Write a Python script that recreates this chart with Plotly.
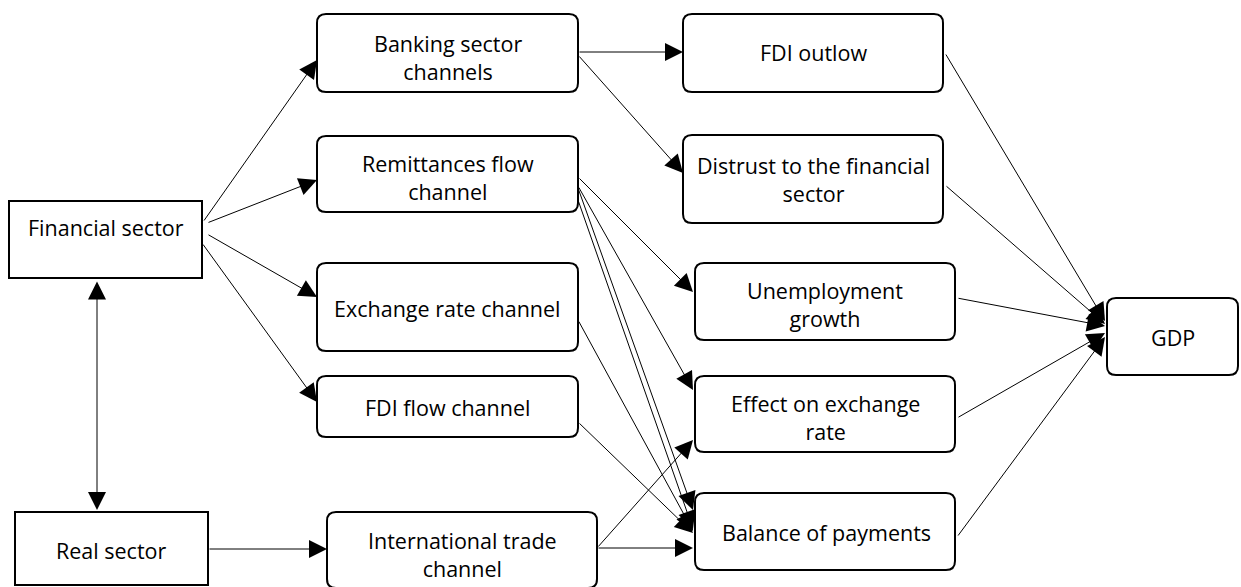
import plotly.graph_objects as go

# ---------------- data: nodes and links of the diagram ----------------
node_ids = ["fin", "real", "bank", "remit", "exch", "fdiflow", "trade",
            "fdiout", "distrust", "unemp", "effexch", "bop", "gdp"]
node_labels = ["Financial sector", "Real sector", "Banking sector<br>channels",
               "Remittances flow<br>channel", "Exchange rate channel", "FDI flow channel",
               "International trade<br>channel", "FDI outlow",
               "Distrust to the financial<br>sector", "Unemployment<br>growth",
               "Effect on exchange<br>rate", "Balance of payments", "GDP"]
node_rounded = [False, False, True, True, True, True, True,
                True, True, True, True, True, True]

edge_sources = ["fin", "fin", "fin", "fin", "real", "bank", "bank",
                "remit", "remit", "remit", "remit", "exch", "fdiflow", "trade", "trade",
                "fdiout", "distrust", "unemp", "effexch", "bop"]
edge_targets = ["bank", "remit", "exch", "fdiflow", "trade", "fdiout", "distrust",
                "unemp", "effexch", "bop", "bop", "bop", "bop", "effexch", "bop",
                "gdp", "gdp", "gdp", "gdp", "gdp"]
two_way_source, two_way_target = "fin", "real"

# ---------------- layout (pixel geometry of the drawing) ----------------
W, H = 1241, 587
# box geometry: x0, x1, y0 (top), y1 (bottom)
box = {
    "fin": (9, 202, 201, 278), "real": (15, 208, 512, 585),
    "bank": (317, 578, 14, 92), "remit": (317, 578, 136, 212),
    "exch": (317, 578, 263, 351), "fdiflow": (317, 578, 376, 437),
    "trade": (327, 597, 512, 588),
    "fdiout": (683, 943, 14, 92), "distrust": (683, 943, 135, 223),
    "unemp": (695, 955, 263, 340), "effexch": (695, 955, 376, 452),
    "bop": (695, 955, 493, 570), "gdp": (1107, 1238, 298, 375),
}
label_y = {"fin": 227, "real": 550, "bank": 57, "remit": 177, "exch": 308,
           "fdiflow": 407, "trade": 554, "fdiout": 52, "distrust": 179,
           "unemp": 304, "effexch": 417, "bop": 532, "gdp": 337}
label_x = {"trade": 462, "bop": 826}
# port heights on the box sides (start on right side, tip on left side)
start_y = [222, 223, 234, 243, 549, 52, 55, 177, 186, 188, 200, 320, 422, 548, 548,
           53, 185, 298, 418, 537]
start_dx = [1, 5, 5, 0, 0, 0, 0, 0, 0, 0, 0, 0, 0, 0, 0, 2, 2, 2, 2, 2]
tip_y = [60, 180, 297, 402, 549, 52, 173, 292, 390, 510, 529, 531, 533, 440, 548,
         321, 324, 326, 333, 337]
tip_dx = [0, 0, 0, 0, 0, 0, 0, -2, -2, -2, -2, -2, -2, -2, -2, -2, -2, -2, -2, -2]

FONT = "Open Sans"
FS = 21.5
AS = 3.6


def rounded_path(x0, x1, y0, y1, r=9):
    return (f"M{x0+r},{y0} L{x1-r},{y0} Q{x1},{y0} {x1},{y0+r} "
            f"L{x1},{y1-r} Q{x1},{y1} {x1-r},{y1} L{x0+r},{y1} "
            f"Q{x0},{y1} {x0},{y1-r} L{x0},{y0+r} Q{x0},{y0} {x0+r},{y0} Z")


fig = go.Figure()
fig.add_trace(go.Scatter(x=[0, W], y=[0, H], mode="markers",
                         marker=dict(opacity=0), hoverinfo="skip", showlegend=False))

shapes, annotations = [], []
for nid, lab, rnd in zip(node_ids, node_labels, node_rounded):
    x0, x1, y0, y1 = box[nid]
    if rnd:
        shapes.append(dict(type="path", path=rounded_path(x0, x1, y0, y1),
                           xref="x", yref="y", line=dict(color="black", width=2),
                           fillcolor="white", layer="above"))
    else:
        shapes.append(dict(type="rect", x0=x0, x1=x1, y0=y0, y1=y1, xref="x", yref="y",
                           line=dict(color="black", width=2), fillcolor="white",
                           layer="above"))
    annotations.append(dict(x=label_x.get(nid, (x0 + x1) / 2), y=label_y[nid],
                            xref="x", yref="y", text=lab, showarrow=False,
                            font=dict(family=FONT, size=FS, color="black"),
                            align="center", xanchor="center", yanchor="middle"))

for s, t, sy, sdx, ty, tdx in zip(edge_sources, edge_targets, start_y, start_dx, tip_y, tip_dx):
    sx = box[s][1] + sdx
    tx = box[t][0] + tdx
    annotations.append(dict(x=tx, y=ty, ax=sx, ay=sy, xref="x", yref="y",
                            axref="x", ayref="y", text="", showarrow=True,
                            arrowhead=2, arrowsize=AS, arrowwidth=1,
                            arrowcolor="black", standoff=0))

# two-way arrow between financial and real sector
fx = 97
annotations.append(dict(x=fx, y=box[two_way_target][2] - 2, ax=fx, ay=box[two_way_source][3] + 2,
                        xref="x", yref="y", axref="x", ayref="y", text="",
                        showarrow=True, arrowhead=2, arrowsize=AS, arrowwidth=1,
                        arrowside="end+start", startarrowhead=2, startarrowsize=AS,
                        arrowcolor="black", standoff=0, startstandoff=0))

fig.update_layout(
    width=W, height=H, margin=dict(l=0, r=0, t=0, b=0),
    paper_bgcolor="white", plot_bgcolor="white",
    xaxis=dict(range=[0, W], visible=False, fixedrange=True),
    yaxis=dict(range=[H, 0], visible=False, fixedrange=True),
    shapes=shapes, annotations=annotations, showlegend=False,
)

fig.write_html("out.html", config={"displayModeBar": False},
               post_script="document.body.style.margin='0';")
